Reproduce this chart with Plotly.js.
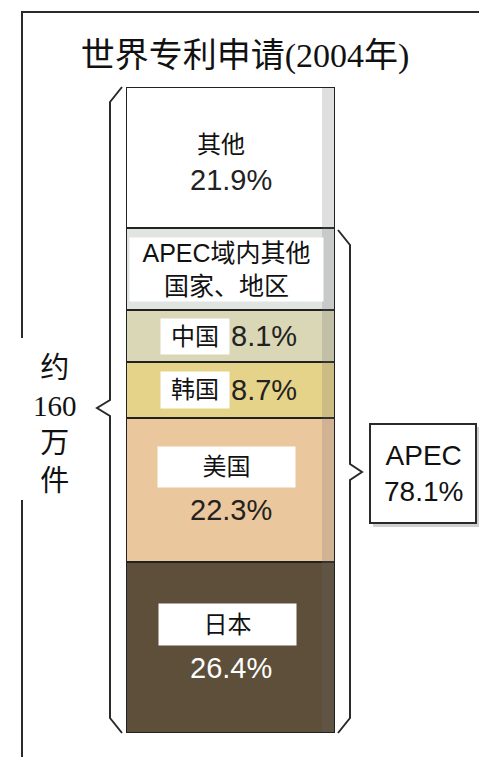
<!DOCTYPE html>
<html>
<head>
<meta charset="utf-8">
<script src="https://cdn.plot.ly/plotly-3.0.1.min.js"></script>
<style>
  html, body { margin: 0; padding: 0; background: #fff; }
  #plot-area { width: 479px; height: 757px; }
</style>
</head>
<body>
<div id="plot-area"></div>
<script>
// world patent applications 2004, shares of about 1.6 million
var regions = ["日本", "美国", "韩国", "中国", "APEC域内其他<br>国家、地区", "其他"];
var shares = [26.4, 22.3, 8.7, 8.1, 12.6, 21.9];
var segColors = ["#5d4f3a", "#ebc79d", "#e6d38a", "#d9d7b6", "#e1e5e2", "#ffffff"];
var showShare = [true, true, true, true, false, true];
var apecShare = 78.1;
var totalLines = ["约", "160", "万", "件"];
var titleText = "世界专利申请(2004年)";

// page geometry (pixels), plot area is the bar itself
var W = 479, H = 757;
var L = 126, R = 335, T = 87, B = 733;
function px(x) { return (x - L) / (R - L); }
function py(y) { return (B - y) / (B - T); }

// how each label sits in its segment (pixel shifts from the segment centre)
var labelStyle = [
    {box: [137, 41], nameDx: -3, nameDy: 23, pctDx: 0, pctDy: -20, pctColor: "#ffffff"},
    {box: [137, 40], nameDx: -4, nameDy: 23, pctDx: 0, pctDy: -20, pctColor: "#222222"},
    {box: [68, 36], nameDx: -36, nameDy: 0, pctDx: 33, pctDy: 0, pctColor: "#222222"},
    {box: [68, 35], nameDx: -36, nameDy: 0, pctDx: 33, pctDy: 0, pctColor: "#222222"},
    {box: [193, 63], nameDx: -4, nameDy: 0, pctDx: 0, pctDy: 0, pctColor: "#222222"},
    {box: null, nameDx: -10, nameDy: 13, pctDx: 0, pctDy: -22, pctColor: "#222222"}
];

var serif = "Liberation Serif, DejaVu Serif, Noto Sans CJK SC, serif";
var sans = "Liberation Sans, Arial, Noto Sans CJK SC, sans-serif";

function UpdatePlot() {
    var data = [];
    var annotations = [];
    var base = 0;

    for (var i = 0; i < regions.length; i++) {
        data.push({
            type: "bar",
            x: [0],
            y: [shares[i]],
            name: regions[i],
            marker: {color: segColors[i], line: {color: "#222", width: 2}},
            hoverinfo: "skip"
        });

        var mid = base + shares[i] / 2;
        var st = labelStyle[i];
        var nameAnn = {
            x: 0, y: mid, xref: "x", yref: "y",
            text: regions[i], showarrow: false,
            xshift: st.nameDx, yshift: st.nameDy,
            font: {family: i === 4 ? sans : serif, size: i === 4 ? 25 : 24, color: "#111"},
            borderpad: 0
        };
        if (st.box) {
            nameAnn.bgcolor = "#ffffff";
            nameAnn.width = st.box[0];
            nameAnn.height = st.box[1];
        }
        annotations.push(nameAnn);

        if (showShare[i]) {
            annotations.push({
                x: 0, y: mid, xref: "x", yref: "y",
                text: shares[i].toFixed(1) + "%", showarrow: false,
                xshift: st.pctDx, yshift: st.pctDy,
                font: {family: sans, size: 29, color: st.pctColor}
            });
        }
        base += shares[i];
    }

    // APEC total box
    annotations.push({
        x: px(423.5), y: py(473), xref: "paper", yref: "paper",
        xanchor: "center", yanchor: "middle",
        text: "APEC<br>" + apecShare.toFixed(1) + "%", showarrow: false,
        font: {family: sans, size: 28, color: "#111"}
    });

    // about 1.6 million applications
    annotations.push({
        x: px(55), y: py(424), xref: "paper", yref: "paper",
        xanchor: "center", yanchor: "middle",
        text: totalLines.join("<br>"), showarrow: false,
        font: {family: serif, size: 29, color: "#111"}
    });

    var ln = {color: "#2a2a2a", width: 2};
    var shapes = [
        // shaded right edge of the bar
        {type: "rect", xref: "paper", yref: "paper", x0: px(322), x1: px(334), y0: py(732), y1: py(88),
         fillcolor: "rgba(110,110,110,0.22)", line: {width: 0}, layer: "above"},
        // outer frame
        {type: "path", xref: "paper", yref: "paper",
         path: "M " + px(22) + " " + py(338) + " L " + px(22) + " " + py(12) + " L " + px(479) + " " + py(12),
         line: ln},
        {type: "line", xref: "paper", yref: "paper", x0: px(22), x1: px(22), y0: py(500), y1: py(757), line: ln},
        // left brace, whole bar
        {type: "path", xref: "paper", yref: "paper",
         path: "M " + px(122) + " " + py(87) + " L " + px(110) + " " + py(102) +
               " L " + px(110) + " " + py(400) + " L " + px(97) + " " + py(408) +
               " L " + px(110) + " " + py(416) + " L " + px(110) + " " + py(718) +
               " L " + px(122) + " " + py(733),
         line: ln},
        // right brace, APEC part
        {type: "path", xref: "paper", yref: "paper",
         path: "M " + px(338) + " " + py(230) + " L " + px(350) + " " + py(245) +
               " L " + px(350) + " " + py(464) + " L " + px(362) + " " + py(472) +
               " L " + px(350) + " " + py(480) + " L " + px(350) + " " + py(718) +
               " L " + px(338) + " " + py(733),
         line: ln},
        // APEC box shadow and box
        {type: "rect", xref: "paper", yref: "paper", x0: px(373), x1: px(479), y0: py(427), y1: py(527),
         fillcolor: "rgba(120,120,120,0.35)", line: {width: 0}},
        {type: "rect", xref: "paper", yref: "paper", x0: px(370), x1: px(476), y0: py(424), y1: py(523),
         fillcolor: "#ffffff", line: ln}
    ];

    var layout = {
        width: W, height: H,
        margin: {l: L, r: W - R, t: T, b: H - B, pad: 0},
        paper_bgcolor: "#ffffff", plot_bgcolor: "#ffffff",
        barmode: "stack", bargap: 0,
        showlegend: false,
        title: {text: titleText, x: 245 / W, xanchor: "center", y: 1 - 55 / H, yanchor: "middle",
                font: {family: serif, size: 34, color: "#111"}},
        xaxis: {visible: false, range: [-0.5, 0.5], fixedrange: true},
        yaxis: {visible: false, range: [0, 100], fixedrange: true},
        shapes: shapes,
        annotations: annotations
    };

    Plotly.newPlot("plot-area", data, layout, {displayModeBar: false, staticPlot: true});
}

UpdatePlot();
</script>
</body>
</html>
